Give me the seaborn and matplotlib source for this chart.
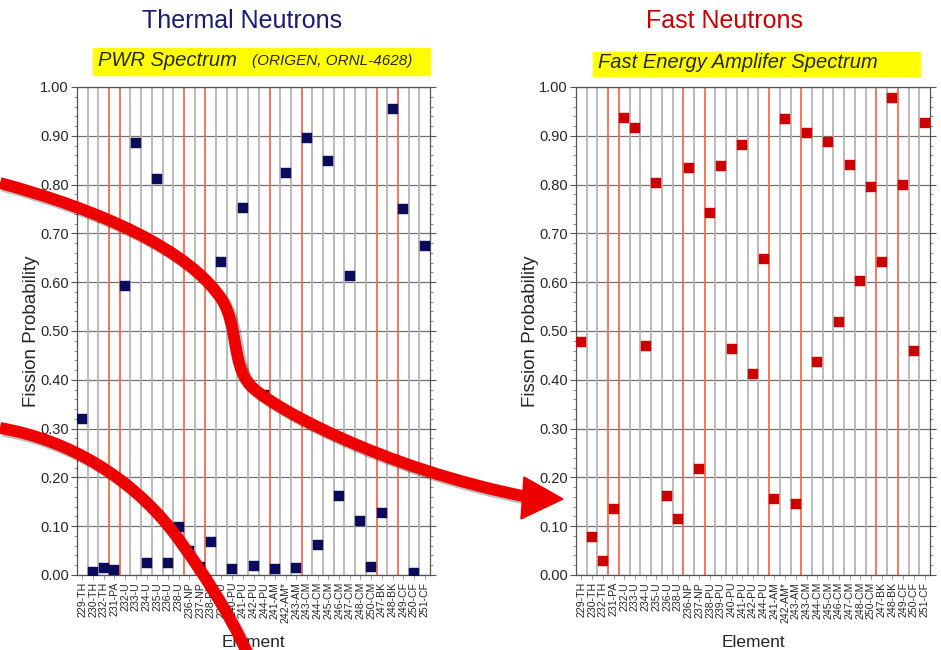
import pandas as pd
import matplotlib.pyplot as plt
import matplotlib.patheffects as pe
from matplotlib.path import Path
from matplotlib.patches import PathPatch, Polygon, Rectangle
from matplotlib.transforms import Affine2D
from matplotlib.ticker import MultipleLocator
import seaborn as sns

# isotopes on the x axis
elementos = ['229-TH', '230-TH', '232-TH', '231-PA', '232-U', '233-U', '234-U', '235-U',
             '236-U', '238-U', '236-NP', '237-NP', '238-PU', '239-PU', '240-PU', '241-PU',
             '242-PU', '244-PU', '241-AM', '242-AM*', '243-AM', '243-CM', '244-CM', '245-CM',
             '246-CM', '247-CM', '248-CM', '250-CM', '247-BK', '248-BK', '249-CF', '250-CF',
             '251-CF']

# fission probability, thermal (PWR) spectrum
# (236-NP and 244-PU sit under the red arrows in the picture, values estimated)
termico = [0.320, 0.007, 0.014, 0.010, 0.593, 0.885, 0.024, 0.811, 0.025, 0.099, 0.050,
           0.017, 0.068, 0.641, 0.012, 0.752, 0.019, 0.368, 0.012, 0.823, 0.014, 0.896,
           0.061, 0.848, 0.162, 0.613, 0.111, 0.017, 0.128, 0.955, 0.751, 0.005, 0.675]

# fission probability, fast energy amplifier spectrum
rapido = [0.478, 0.078, 0.029, 0.135, 0.937, 0.917, 0.469, 0.804, 0.162, 0.115, 0.835,
          0.217, 0.742, 0.839, 0.463, 0.881, 0.411, 0.647, 0.156, 0.934, 0.145, 0.905,
          0.437, 0.888, 0.519, 0.840, 0.602, 0.796, 0.641, 0.977, 0.800, 0.459, 0.926]

# boundaries between element groups (drawn in red)
limites_vermelhos = [3, 4, 10, 12, 18, 21, 28, 30]

dados = pd.DataFrame({'Element': elementos, 'Termico': termico, 'Rapido': rapido})

sns.set_style('white')
plt.rcParams['font.family'] = ['Liberation Sans', 'DejaVu Sans']

W, H = 941, 650
fig = plt.figure(figsize=(W / 100, H / 100), dpi=100)
ax1 = fig.add_axes([77 / W, 1 - 575 / H, 353 / W, 488 / H])
ax2 = fig.add_axes([576 / W, 1 - 575 / H, 354 / W, 488 / H])

cor_azul = '#0b0b5c'
cor_verm = '#cc0000'


def desenha(ax, coluna, cor):
    n = len(elementos)
    for k in range(1, n):
        if k in limites_vermelhos:
            ax.axvline(k - 0.5, color='#f36a55', lw=1.3, zorder=1)
        else:
            ax.axvline(k - 0.5, color='#b4b4b4', lw=1.3, zorder=1)
    ax.grid(axis='y', color='#707070', lw=0.9)
    ax.set_axisbelow(True)
    sns.scatterplot(data=dados, x='Element', y=coluna, marker='s', s=62, color=cor,
                    edgecolor=cor, linewidth=0.3, ax=ax, legend=False, zorder=3)
    ax.set_xlim(-0.5, n - 0.5)
    ax.set_ylim(0, 1.0)
    ax.set_xticks(range(n))
    ax.set_xticklabels(elementos, rotation=90, fontsize=7.6)
    ax.yaxis.set_major_locator(MultipleLocator(0.1))
    ax.yaxis.set_minor_locator(MultipleLocator(0.02))
    ax.set_yticklabels([f'{v:.2f}' for v in ax.get_yticks()], fontsize=10.5)
    ax.tick_params(axis='y', which='major', length=4, width=0.8, color='#555555',
                   left=True, right=True, pad=2)
    ax.tick_params(axis='y', which='minor', length=2, width=0.6, color='#777777',
                   left=True, right=True)
    ax.tick_params(axis='x', length=3, width=0.6, color='#888888', bottom=True, pad=2)
    for s in ax.spines.values():
        s.set_color('#555555')
        s.set_linewidth(0.9)
    ax.set_xlabel('Element', fontsize=12.5, labelpad=9)
    ax.set_ylabel('Fission Probability', fontsize=13.5, labelpad=0)


desenha(ax1, 'Termico', cor_azul)
desenha(ax2, 'Rapido', cor_verm)

# titles and yellow boxes (pixel coords -> figure coords)
px = Affine2D().scale(1 / W, -1 / H).translate(0, 1) + fig.transFigure

fig.text(242 / W, 1 - 21 / H, 'Thermal Neutrons', ha='center', va='center',
         fontsize=18, color='#1b1a78')
fig.text(724 / W, 1 - 21 / H, 'Fast Neutrons', ha='center', va='center',
         fontsize=18, color=cor_verm)

fig.patches.append(Rectangle((93, 48), 337, 27, transform=px, color='#ffff00', zorder=0))
fig.patches.append(Rectangle((593, 52), 327, 24, transform=px, color='#ffff00', zorder=0))
fig.text(98 / W, 1 - 61 / H, 'PWR Spectrum', ha='left', va='center',
         fontsize=14.5, style='italic')
fig.text(252 / W, 1 - 61 / H, '(ORIGEN, ORNL-4628)', ha='left', va='center',
         fontsize=11, style='italic')
fig.text(598 / W, 1 - 63 / H, 'Fast Energy Amplifer Spectrum', ha='left', va='center',
         fontsize=14.5, style='italic')

# red arrows drawn over the charts
sombra = [pe.SimpleLineShadow(offset=(2, -2), alpha=0.25), pe.Normal()]
seta1 = Path([(0, 183), (100, 210), (190, 250), (222, 300),
              (238, 325), (232, 365), (250, 385),
              (268, 405), (380, 468), (528, 497)],
             [Path.MOVETO] + [Path.CURVE4] * 9)
seta2 = Path([(0, 428), (70, 440), (130, 478), (170, 528),
              (185, 547), (230, 610), (250, 660)],
             [Path.MOVETO] + [Path.CURVE4] * 6)
for p in (seta1, seta2):
    fig.patches.append(PathPatch(p, transform=px, fill=False, edgecolor='#ee0000',
                                 lw=8.5, capstyle='butt', path_effects=sombra, zorder=10))
fig.patches.append(Polygon([(524, 477), (521, 519), (563, 499)], closed=True,
                           transform=px, color='#ee0000', zorder=10))

plt.savefig('out.png', dpi=100)
